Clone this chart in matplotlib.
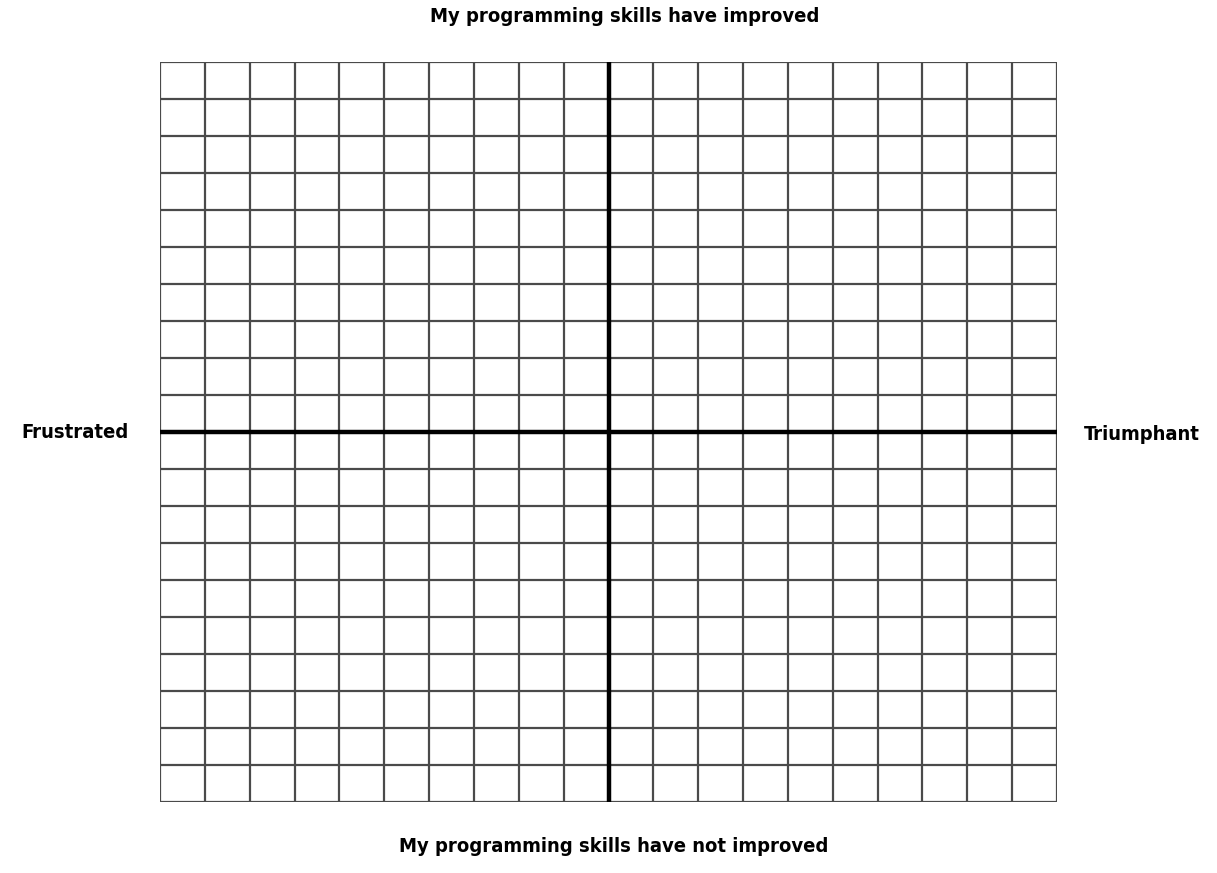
import numpy as np
import matplotlib.pyplot as plt

x_ticks = list(range(-10, 11))
y_ticks = list(range(-10, 11))
top_label = "My programming skills have improved"
bottom_label = "My programming skills have not improved"
left_label = "Frustrated"
right_label = "Triumphant"

plt.rcParams['font.family'] = ['DejaVu Sans']

fig = plt.figure(figsize=(12.17, 8.73), dpi=100)
ax = fig.add_axes([160 / 1217, 71 / 873, 897 / 1217, 740 / 873])

for x in x_ticks:
    ax.axvline(x, color="#4a4a4a", lw=1.6, zorder=1)
for y in y_ticks:
    ax.axhline(y, color="#4a4a4a", lw=1.6, zorder=1)
ax.axvline(0, color="black", lw=3.2, zorder=2)
ax.axhline(0, color="black", lw=3.2, zorder=2)

ax.set_xlim(x_ticks[0], x_ticks[-1])
ax.set_ylim(y_ticks[0], y_ticks[-1])
ax.set_xticks([])
ax.set_yticks([])
for s in ax.spines.values():
    s.set_visible(False)

kw = dict(fontsize=14.5, fontweight="bold", fontstretch="condensed", color="black")
fig.text(625 / 1217, 1 - 17 / 873, top_label, ha="center", va="center", **kw)
fig.text(614 / 1217, 1 - 846 / 873, bottom_label, ha="center", va="center", **kw)
fig.text(75 / 1217, 1 - 432 / 873, left_label, ha="center", va="center", **kw)
fig.text(1142 / 1217, 1 - 434 / 873, right_label, ha="center", va="center", **kw)

fig.savefig("out.png", dpi=100)
